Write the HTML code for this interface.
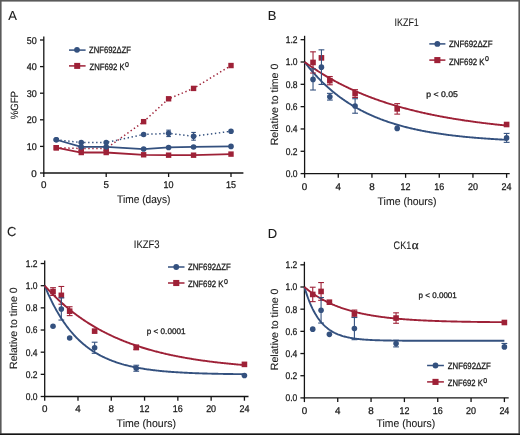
<!DOCTYPE html>
<html><head><meta charset="utf-8"><style>
html,body{margin:0;padding:0;background:#fff;width:520px;height:435px;overflow:hidden}
svg{display:block;font-family:"Liberation Sans",sans-serif} text{text-rendering:geometricPrecision;stroke:#1a1a1a;stroke-width:0.28px;filter:grayscale(1)} text.L{stroke-width:0.1px}
</style></head><body><svg width="520" height="435" viewBox="0 0 520 435" font-family="Liberation Sans, sans-serif"><rect x="0" y="0" width="520" height="435" fill="#fff"/>
<line x1="43.8" y1="36.5" x2="43.8" y2="173.6" stroke="#141414" stroke-width="1.3" />
<line x1="43.2" y1="173" x2="243.4" y2="173" stroke="#141414" stroke-width="1.3" />
<line x1="40" y1="173" x2="43.8" y2="173" stroke="#141414" stroke-width="1.3" />
<text x="36.7" y="176.5" font-size="9.8" text-anchor="end" fill="#1a1a1a" >0</text>
<line x1="40" y1="146.4" x2="43.8" y2="146.4" stroke="#141414" stroke-width="1.3" />
<text x="36.7" y="149.9" font-size="9.8" text-anchor="end" fill="#1a1a1a" textLength="10" lengthAdjust="spacingAndGlyphs" >10</text>
<line x1="40" y1="119.8" x2="43.8" y2="119.8" stroke="#141414" stroke-width="1.3" />
<text x="36.7" y="123.3" font-size="9.8" text-anchor="end" fill="#1a1a1a" textLength="10" lengthAdjust="spacingAndGlyphs" >20</text>
<line x1="40" y1="93.2" x2="43.8" y2="93.2" stroke="#141414" stroke-width="1.3" />
<text x="36.7" y="96.7" font-size="9.8" text-anchor="end" fill="#1a1a1a" textLength="10" lengthAdjust="spacingAndGlyphs" >30</text>
<line x1="40" y1="66.6" x2="43.8" y2="66.6" stroke="#141414" stroke-width="1.3" />
<text x="36.7" y="70.1" font-size="9.8" text-anchor="end" fill="#1a1a1a" textLength="10" lengthAdjust="spacingAndGlyphs" >40</text>
<line x1="40" y1="40" x2="43.8" y2="40" stroke="#141414" stroke-width="1.3" />
<text x="36.7" y="43.5" font-size="9.8" text-anchor="end" fill="#1a1a1a" textLength="10" lengthAdjust="spacingAndGlyphs" >50</text>
<line x1="43.8" y1="173" x2="43.8" y2="177" stroke="#141414" stroke-width="1.3" />
<text x="43.8" y="188.3" font-size="9.8" text-anchor="middle" fill="#1a1a1a" >0</text>
<line x1="106.2" y1="173" x2="106.2" y2="177" stroke="#141414" stroke-width="1.3" />
<text x="106.2" y="188.3" font-size="9.8" text-anchor="middle" fill="#1a1a1a" >5</text>
<line x1="168.6" y1="173" x2="168.6" y2="177" stroke="#141414" stroke-width="1.3" />
<text x="168.6" y="188.3" font-size="9.8" text-anchor="middle" fill="#1a1a1a" textLength="10" lengthAdjust="spacingAndGlyphs" >10</text>
<line x1="231" y1="173" x2="231" y2="177" stroke="#141414" stroke-width="1.3" />
<text x="231" y="188.3" font-size="9.8" text-anchor="middle" fill="#1a1a1a" textLength="10" lengthAdjust="spacingAndGlyphs" >15</text>
<text x="8.3" y="20.4" font-size="13" text-anchor="start" fill="#1a1a1a"  class="L">A</text>
<text transform="translate(17.9,105.2) rotate(-90)" class="L" font-size="10.5" text-anchor="middle" fill="#1a1a1a" textLength="28.3" lengthAdjust="spacingAndGlyphs">%GFP</text>
<text x="117.1" y="203.2" font-size="11" text-anchor="start" fill="#1a1a1a" textLength="53.3" lengthAdjust="spacingAndGlyphs"  class="L">Time (days)</text>
<polyline points="56.28,147.73 81.24,148.53 106.2,148.53 143.64,121.66 168.6,98.79 193.56,88.41 231,65.54" fill="none" stroke="#9e2137" stroke-width="1.5" stroke-dasharray="1.4 2.6" stroke-linejoin="round"/>
<polyline points="56.28,147.73 81.24,152.52 106.2,152.52 143.64,154.78 168.6,155.18 193.56,155.18 231,154.11" fill="none" stroke="#9e2137" stroke-width="1.8" stroke-linejoin="round"/>
<rect x="53.58" y="145.03" width="5.4" height="5.4" fill="#9e2137"/>
<rect x="78.54" y="145.83" width="5.4" height="5.4" fill="#9e2137"/>
<rect x="103.5" y="145.83" width="5.4" height="5.4" fill="#9e2137"/>
<rect x="140.94" y="118.96" width="5.4" height="5.4" fill="#9e2137"/>
<rect x="165.9" y="96.09" width="5.4" height="5.4" fill="#9e2137"/>
<rect x="190.86" y="85.71" width="5.4" height="5.4" fill="#9e2137"/>
<rect x="228.3" y="62.84" width="5.4" height="5.4" fill="#9e2137"/>
<rect x="53.58" y="145.03" width="5.4" height="5.4" fill="#9e2137"/>
<rect x="78.54" y="149.82" width="5.4" height="5.4" fill="#9e2137"/>
<rect x="103.5" y="149.82" width="5.4" height="5.4" fill="#9e2137"/>
<rect x="140.94" y="152.08" width="5.4" height="5.4" fill="#9e2137"/>
<rect x="165.9" y="152.48" width="5.4" height="5.4" fill="#9e2137"/>
<rect x="190.86" y="152.48" width="5.4" height="5.4" fill="#9e2137"/>
<rect x="228.3" y="151.41" width="5.4" height="5.4" fill="#9e2137"/>
<polyline points="56.28,139.75 81.24,142.54 106.2,142.54 143.64,134.43 168.6,133.37 193.56,136.29 231,131.24" fill="none" stroke="#34517f" stroke-width="1.5" stroke-dasharray="1.4 2.6" stroke-linejoin="round"/>
<polyline points="56.28,139.75 81.24,146.93 106.2,146.93 143.64,149.06 168.6,147.46 193.56,146.93 231,146.4" fill="none" stroke="#34517f" stroke-width="1.8" stroke-linejoin="round"/>
<line x1="168.6" y1="130.17" x2="168.6" y2="136.56" stroke="#34517f" stroke-width="1.1" />
<line x1="166.3" y1="130.17" x2="170.9" y2="130.17" stroke="#34517f" stroke-width="1.1" />
<line x1="166.3" y1="136.56" x2="170.9" y2="136.56" stroke="#34517f" stroke-width="1.1" />
<line x1="193.56" y1="132.44" x2="193.56" y2="140.15" stroke="#34517f" stroke-width="1.1" />
<line x1="191.26" y1="132.44" x2="195.86" y2="132.44" stroke="#34517f" stroke-width="1.1" />
<line x1="191.26" y1="140.15" x2="195.86" y2="140.15" stroke="#34517f" stroke-width="1.1" />
<circle cx="56.28" cy="139.75" r="2.8" fill="#34517f"/>
<circle cx="81.24" cy="142.54" r="2.8" fill="#34517f"/>
<circle cx="106.2" cy="142.54" r="2.8" fill="#34517f"/>
<circle cx="143.64" cy="134.43" r="2.8" fill="#34517f"/>
<circle cx="168.6" cy="133.37" r="2.8" fill="#34517f"/>
<circle cx="193.56" cy="136.29" r="2.8" fill="#34517f"/>
<circle cx="231" cy="131.24" r="2.8" fill="#34517f"/>
<circle cx="56.28" cy="139.75" r="2.8" fill="#34517f"/>
<circle cx="81.24" cy="146.93" r="2.8" fill="#34517f"/>
<circle cx="106.2" cy="146.93" r="2.8" fill="#34517f"/>
<circle cx="143.64" cy="149.06" r="2.8" fill="#34517f"/>
<circle cx="168.6" cy="147.46" r="2.8" fill="#34517f"/>
<circle cx="193.56" cy="146.93" r="2.8" fill="#34517f"/>
<circle cx="231" cy="146.4" r="2.8" fill="#34517f"/>
<line x1="69" y1="50.1" x2="85.6" y2="50.1" stroke="#34517f" stroke-width="1.5" />
<circle cx="77" cy="49.8" r="2.9" fill="#34517f"/>
<line x1="69" y1="65.9" x2="85.6" y2="65.9" stroke="#9e2137" stroke-width="1.5" />
<rect x="74.2" y="62.9" width="6.0" height="6.0" fill="#9e2137"/>
<text x="89.1" y="53.2" font-size="9.2" text-anchor="start" fill="#1a1a1a" textLength="41.9" lengthAdjust="spacingAndGlyphs" >ZNF692ΔZF</text>
<text x="89.5" y="70.4" font-size="9.2" text-anchor="start" fill="#1a1a1a" textLength="35.2" lengthAdjust="spacingAndGlyphs" >ZNF692 K</text>
<text x="125" y="66.7" font-size="7" text-anchor="start" fill="#1a1a1a" >0</text>
<line x1="304.6" y1="35.8" x2="304.6" y2="174.2" stroke="#141414" stroke-width="1.3" />
<line x1="304" y1="173.6" x2="509.7" y2="173.6" stroke="#141414" stroke-width="1.3" />
<line x1="300.6" y1="173.6" x2="304.6" y2="173.6" stroke="#141414" stroke-width="1.3" />
<text x="297.5" y="177" font-size="9.8" text-anchor="end" fill="#1a1a1a" textLength="11.8" lengthAdjust="spacingAndGlyphs" >0.0</text>
<line x1="300.6" y1="151.28" x2="304.6" y2="151.28" stroke="#141414" stroke-width="1.3" />
<text x="297.5" y="154.68" font-size="9.8" text-anchor="end" fill="#1a1a1a" textLength="11.8" lengthAdjust="spacingAndGlyphs" >0.2</text>
<line x1="300.6" y1="128.96" x2="304.6" y2="128.96" stroke="#141414" stroke-width="1.3" />
<text x="297.5" y="132.36" font-size="9.8" text-anchor="end" fill="#1a1a1a" textLength="11.8" lengthAdjust="spacingAndGlyphs" >0.4</text>
<line x1="300.6" y1="106.64" x2="304.6" y2="106.64" stroke="#141414" stroke-width="1.3" />
<text x="297.5" y="110.04" font-size="9.8" text-anchor="end" fill="#1a1a1a" textLength="11.8" lengthAdjust="spacingAndGlyphs" >0.6</text>
<line x1="300.6" y1="84.32" x2="304.6" y2="84.32" stroke="#141414" stroke-width="1.3" />
<text x="297.5" y="87.72" font-size="9.8" text-anchor="end" fill="#1a1a1a" textLength="11.8" lengthAdjust="spacingAndGlyphs" >0.8</text>
<line x1="300.6" y1="62" x2="304.6" y2="62" stroke="#141414" stroke-width="1.3" />
<text x="297.5" y="65.4" font-size="9.8" text-anchor="end" fill="#1a1a1a" textLength="11.8" lengthAdjust="spacingAndGlyphs" >1.0</text>
<line x1="300.6" y1="39.68" x2="304.6" y2="39.68" stroke="#141414" stroke-width="1.3" />
<text x="297.5" y="43.08" font-size="9.8" text-anchor="end" fill="#1a1a1a" textLength="11.8" lengthAdjust="spacingAndGlyphs" >1.2</text>
<line x1="304.6" y1="173.6" x2="304.6" y2="177.8" stroke="#141414" stroke-width="1.3" />
<text x="304.6" y="189.5" font-size="9.8" text-anchor="middle" fill="#1a1a1a" >0</text>
<line x1="338.27" y1="173.6" x2="338.27" y2="177.8" stroke="#141414" stroke-width="1.3" />
<text x="338.27" y="189.5" font-size="9.8" text-anchor="middle" fill="#1a1a1a" >4</text>
<line x1="371.94" y1="173.6" x2="371.94" y2="177.8" stroke="#141414" stroke-width="1.3" />
<text x="371.94" y="189.5" font-size="9.8" text-anchor="middle" fill="#1a1a1a" >8</text>
<line x1="405.6" y1="173.6" x2="405.6" y2="177.8" stroke="#141414" stroke-width="1.3" />
<text x="405.6" y="189.5" font-size="9.8" text-anchor="middle" fill="#1a1a1a" textLength="10" lengthAdjust="spacingAndGlyphs" >12</text>
<line x1="439.27" y1="173.6" x2="439.27" y2="177.8" stroke="#141414" stroke-width="1.3" />
<text x="439.27" y="189.5" font-size="9.8" text-anchor="middle" fill="#1a1a1a" textLength="10" lengthAdjust="spacingAndGlyphs" >16</text>
<line x1="472.94" y1="173.6" x2="472.94" y2="177.8" stroke="#141414" stroke-width="1.3" />
<text x="472.94" y="189.5" font-size="9.8" text-anchor="middle" fill="#1a1a1a" textLength="10" lengthAdjust="spacingAndGlyphs" >20</text>
<line x1="506.61" y1="173.6" x2="506.61" y2="177.8" stroke="#141414" stroke-width="1.3" />
<text x="506.61" y="189.5" font-size="9.8" text-anchor="middle" fill="#1a1a1a" textLength="10" lengthAdjust="spacingAndGlyphs" >24</text>
<text x="267.8" y="20.3" font-size="13" text-anchor="start" fill="#1a1a1a"  class="L">B</text>
<text x="394.6" y="25.9" font-size="11" text-anchor="start" fill="#1a1a1a" textLength="24.2" lengthAdjust="spacingAndGlyphs"  class="L">IKZF1</text>
<line x1="429.3" y1="43.9" x2="445.4" y2="43.9" stroke="#34517f" stroke-width="1.5" />
<circle cx="437.35" cy="43.9" r="2.9" fill="#34517f"/>
<line x1="429.3" y1="60.1" x2="445.4" y2="60.1" stroke="#9e2137" stroke-width="1.5" />
<rect x="434.3" y="57.05" width="6.1" height="6.1" fill="#9e2137"/>
<text x="448.9" y="47.1" font-size="9.2" text-anchor="start" fill="#1a1a1a" textLength="43.6" lengthAdjust="spacingAndGlyphs" >ZNF692ΔZF</text>
<text x="448.9" y="64.5" font-size="9.2" text-anchor="start" fill="#1a1a1a" textLength="35.7" lengthAdjust="spacingAndGlyphs" >ZNF692 K</text>
<text x="485.1" y="60.7" font-size="7" text-anchor="start" fill="#1a1a1a" >0</text>
<text x="426.2" y="96.8" font-size="8.2" text-anchor="start" fill="#1a1a1a" textLength="31.7" lengthAdjust="spacingAndGlyphs" >p &lt; 0.05</text>
<text x="377.6" y="204.6" font-size="11" text-anchor="start" fill="#1a1a1a" textLength="59" lengthAdjust="spacingAndGlyphs"  class="L">Time (hours)</text>
<text transform="translate(278.3,104.5) rotate(-90)" class="L" font-size="10.5" text-anchor="middle" fill="#1a1a1a" textLength="81.5" lengthAdjust="spacingAndGlyphs">Relative to time 0</text>
<polyline points="304.6,62 305.44,63.09 306.28,64.17 307.13,65.23 307.97,66.27 308.81,67.31 309.65,68.33 310.49,69.33 311.33,70.32 312.18,71.3 313.02,72.27 313.86,73.22 314.7,74.16 315.54,75.09 316.38,76 317.23,76.9 318.07,77.79 318.91,78.67 319.75,79.53 320.59,80.39 321.43,81.23 322.28,82.06 323.12,82.88 323.96,83.69 324.8,84.49 325.64,85.28 326.48,86.05 327.33,86.82 328.17,87.58 329.01,88.32 329.85,89.06 330.69,89.78 331.53,90.5 332.38,91.21 333.22,91.9 334.06,92.59 334.9,93.27 335.74,93.94 336.58,94.6 337.43,95.25 338.27,95.89 339.11,96.53 339.95,97.15 340.79,97.77 341.63,98.38 342.48,98.98 343.32,99.57 344.16,100.15 345,100.73 345.84,101.3 346.69,101.86 347.53,102.41 348.37,102.96 349.21,103.5 350.05,104.03 350.89,104.55 351.74,105.07 352.58,105.58 353.42,106.08 354.26,106.58 355.1,107.07 355.94,107.55 356.79,108.03 357.63,108.5 358.47,108.96 359.31,109.42 360.15,109.87 360.99,110.32 361.84,110.75 362.68,111.19 363.52,111.62 364.36,112.04 365.2,112.45 366.04,112.86 366.89,113.27 367.73,113.67 368.57,114.06 369.41,114.45 370.25,114.84 371.09,115.21 371.94,115.59 372.78,115.96 373.62,116.32 374.46,116.68 375.3,117.03 376.14,117.38 376.99,117.72 377.83,118.06 378.67,118.4 379.51,118.73 380.35,119.05 381.19,119.38 382.04,119.69 382.88,120.01 383.72,120.31 384.56,120.62 385.4,120.92 386.24,121.22 387.09,121.51 387.93,121.8 388.77,122.08 389.61,122.36 390.45,122.64 391.3,122.91 392.14,123.18 392.98,123.45 393.82,123.71 394.66,123.97 395.5,124.22 396.35,124.48 397.19,124.72 398.03,124.97 398.87,125.21 399.71,125.45 400.55,125.69 401.4,125.92 402.24,126.15 403.08,126.37 403.92,126.6 404.76,126.82 405.6,127.03 406.45,127.25 407.29,127.46 408.13,127.67 408.97,127.87 409.81,128.07 410.65,128.27 411.5,128.47 412.34,128.67 413.18,128.86 414.02,129.05 414.86,129.23 415.7,129.42 416.55,129.6 417.39,129.78 418.23,129.96 419.07,130.13 419.91,130.3 420.75,130.47 421.6,130.64 422.44,130.81 423.28,130.97 424.12,131.13 424.96,131.29 425.8,131.45 426.65,131.6 427.49,131.75 428.33,131.9 429.17,132.05 430.01,132.2 430.86,132.34 431.7,132.48 432.54,132.62 433.38,132.76 434.22,132.9 435.06,133.04 435.91,133.17 436.75,133.3 437.59,133.43 438.43,133.56 439.27,133.68 440.11,133.81 440.96,133.93 441.8,134.05 442.64,134.17 443.48,134.29 444.32,134.4 445.16,134.52 446.01,134.63 446.85,134.74 447.69,134.85 448.53,134.96 449.37,135.07 450.21,135.18 451.06,135.28 451.9,135.38 452.74,135.48 453.58,135.58 454.42,135.68 455.26,135.78 456.11,135.88 456.95,135.97 457.79,136.06 458.63,136.16 459.47,136.25 460.31,136.34 461.16,136.43 462,136.51 462.84,136.6 463.68,136.68 464.52,136.77 465.36,136.85 466.21,136.93 467.05,137.01 467.89,137.09 468.73,137.17 469.57,137.25 470.41,137.33 471.26,137.4 472.1,137.47 472.94,137.55 473.78,137.62 474.62,137.69 475.47,137.76 476.31,137.83 477.15,137.9 477.99,137.97 478.83,138.03 479.67,138.1 480.52,138.16 481.36,138.23 482.2,138.29 483.04,138.35 483.88,138.42 484.72,138.48 485.57,138.54 486.41,138.59 487.25,138.65 488.09,138.71 488.93,138.77 489.77,138.82 490.62,138.88 491.46,138.93 492.3,138.99 493.14,139.04 493.98,139.09 494.82,139.14 495.67,139.19 496.51,139.24 497.35,139.29 498.19,139.34 499.03,139.39 499.87,139.44 500.72,139.48 501.56,139.53 502.4,139.58 503.24,139.62 504.08,139.66 504.92,139.71 505.77,139.75 506.61,139.79" fill="none" stroke="#34517f" stroke-width="1.9" stroke-linejoin="round"/>
<polyline points="304.6,62 305.44,62.61 306.28,63.22 307.13,63.82 307.97,64.41 308.81,65 309.65,65.59 310.49,66.17 311.33,66.75 312.18,67.32 313.02,67.89 313.86,68.45 314.7,69.01 315.54,69.56 316.38,70.11 317.23,70.65 318.07,71.19 318.91,71.72 319.75,72.25 320.59,72.78 321.43,73.3 322.28,73.82 323.12,74.33 323.96,74.84 324.8,75.34 325.64,75.84 326.48,76.34 327.33,76.83 328.17,77.32 329.01,77.8 329.85,78.28 330.69,78.76 331.53,79.23 332.38,79.7 333.22,80.16 334.06,80.62 334.9,81.08 335.74,81.53 336.58,81.98 337.43,82.42 338.27,82.86 339.11,83.3 339.95,83.73 340.79,84.17 341.63,84.59 342.48,85.02 343.32,85.43 344.16,85.85 345,86.26 345.84,86.67 346.69,87.08 347.53,87.48 348.37,87.88 349.21,88.28 350.05,88.67 350.89,89.06 351.74,89.44 352.58,89.83 353.42,90.21 354.26,90.58 355.1,90.96 355.94,91.33 356.79,91.69 357.63,92.06 358.47,92.42 359.31,92.78 360.15,93.13 360.99,93.48 361.84,93.83 362.68,94.18 363.52,94.52 364.36,94.86 365.2,95.2 366.04,95.54 366.89,95.87 367.73,96.2 368.57,96.52 369.41,96.85 370.25,97.17 371.09,97.49 371.94,97.8 372.78,98.12 373.62,98.43 374.46,98.74 375.3,99.04 376.14,99.34 376.99,99.64 377.83,99.94 378.67,100.24 379.51,100.53 380.35,100.82 381.19,101.11 382.04,101.4 382.88,101.68 383.72,101.96 384.56,102.24 385.4,102.51 386.24,102.79 387.09,103.06 387.93,103.33 388.77,103.6 389.61,103.86 390.45,104.13 391.3,104.39 392.14,104.64 392.98,104.9 393.82,105.16 394.66,105.41 395.5,105.66 396.35,105.91 397.19,106.15 398.03,106.4 398.87,106.64 399.71,106.88 400.55,107.11 401.4,107.35 402.24,107.58 403.08,107.82 403.92,108.05 404.76,108.27 405.6,108.5 406.45,108.72 407.29,108.95 408.13,109.17 408.97,109.39 409.81,109.6 410.65,109.82 411.5,110.03 412.34,110.24 413.18,110.45 414.02,110.66 414.86,110.87 415.7,111.07 416.55,111.28 417.39,111.48 418.23,111.68 419.07,111.87 419.91,112.07 420.75,112.27 421.6,112.46 422.44,112.65 423.28,112.84 424.12,113.03 424.96,113.21 425.8,113.4 426.65,113.58 427.49,113.77 428.33,113.95 429.17,114.12 430.01,114.3 430.86,114.48 431.7,114.65 432.54,114.83 433.38,115 434.22,115.17 435.06,115.34 435.91,115.5 436.75,115.67 437.59,115.84 438.43,116 439.27,116.16 440.11,116.32 440.96,116.48 441.8,116.64 442.64,116.8 443.48,116.95 444.32,117.1 445.16,117.26 446.01,117.41 446.85,117.56 447.69,117.71 448.53,117.86 449.37,118 450.21,118.15 451.06,118.29 451.9,118.43 452.74,118.58 453.58,118.72 454.42,118.86 455.26,118.99 456.11,119.13 456.95,119.27 457.79,119.4 458.63,119.54 459.47,119.67 460.31,119.8 461.16,119.93 462,120.06 462.84,120.19 463.68,120.31 464.52,120.44 465.36,120.57 466.21,120.69 467.05,120.81 467.89,120.93 468.73,121.06 469.57,121.18 470.41,121.29 471.26,121.41 472.1,121.53 472.94,121.65 473.78,121.76 474.62,121.87 475.47,121.99 476.31,122.1 477.15,122.21 477.99,122.32 478.83,122.43 479.67,122.54 480.52,122.65 481.36,122.75 482.2,122.86 483.04,122.96 483.88,123.07 484.72,123.17 485.57,123.27 486.41,123.38 487.25,123.48 488.09,123.58 488.93,123.67 489.77,123.77 490.62,123.87 491.46,123.97 492.3,124.06 493.14,124.16 493.98,124.25 494.82,124.34 495.67,124.44 496.51,124.53 497.35,124.62 498.19,124.71 499.03,124.8 499.87,124.89 500.72,124.98 501.56,125.06 502.4,125.15 503.24,125.24 504.08,125.32 504.92,125.41 505.77,125.49 506.61,125.57" fill="none" stroke="#9e2137" stroke-width="1.9" stroke-linejoin="round"/>
<line x1="313.02" y1="51.84" x2="313.02" y2="73.05" stroke="#9e2137" stroke-width="1.1" />
<line x1="310.12" y1="51.84" x2="315.92" y2="51.84" stroke="#9e2137" stroke-width="1.1" />
<line x1="310.12" y1="73.05" x2="315.92" y2="73.05" stroke="#9e2137" stroke-width="1.1" />
<rect x="310.22" y="59.65" width="5.6" height="5.6" fill="#9e2137"/>
<rect x="318.63" y="55.07" width="5.6" height="5.6" fill="#9e2137"/>
<line x1="329.85" y1="76.51" x2="329.85" y2="84.77" stroke="#9e2137" stroke-width="1.1" />
<line x1="326.95" y1="76.51" x2="332.75" y2="76.51" stroke="#9e2137" stroke-width="1.1" />
<line x1="326.95" y1="84.77" x2="332.75" y2="84.77" stroke="#9e2137" stroke-width="1.1" />
<rect x="327.05" y="77.84" width="5.6" height="5.6" fill="#9e2137"/>
<line x1="355.1" y1="89.68" x2="355.1" y2="97.49" stroke="#9e2137" stroke-width="1.1" />
<line x1="352.2" y1="89.68" x2="358" y2="89.68" stroke="#9e2137" stroke-width="1.1" />
<line x1="352.2" y1="97.49" x2="358" y2="97.49" stroke="#9e2137" stroke-width="1.1" />
<rect x="352.3" y="90.78" width="5.6" height="5.6" fill="#9e2137"/>
<line x1="397.19" y1="103.63" x2="397.19" y2="114.12" stroke="#9e2137" stroke-width="1.1" />
<line x1="394.29" y1="103.63" x2="400.09" y2="103.63" stroke="#9e2137" stroke-width="1.1" />
<line x1="394.29" y1="114.12" x2="400.09" y2="114.12" stroke="#9e2137" stroke-width="1.1" />
<rect x="394.39" y="106.07" width="5.6" height="5.6" fill="#9e2137"/>
<rect x="503.81" y="121.7" width="5.6" height="5.6" fill="#9e2137"/>
<line x1="313.02" y1="68.81" x2="313.02" y2="90.01" stroke="#34517f" stroke-width="1.1" />
<line x1="310.12" y1="68.81" x2="315.92" y2="68.81" stroke="#34517f" stroke-width="1.1" />
<line x1="310.12" y1="90.01" x2="315.92" y2="90.01" stroke="#34517f" stroke-width="1.1" />
<circle cx="313.02" cy="79.41" r="2.8" fill="#34517f"/>
<line x1="321.43" y1="49.84" x2="321.43" y2="84.43" stroke="#34517f" stroke-width="1.1" />
<line x1="318.53" y1="49.84" x2="324.33" y2="49.84" stroke="#34517f" stroke-width="1.1" />
<line x1="318.53" y1="84.43" x2="324.33" y2="84.43" stroke="#34517f" stroke-width="1.1" />
<circle cx="321.43" cy="67.13" r="2.8" fill="#34517f"/>
<line x1="329.85" y1="93.36" x2="329.85" y2="100.06" stroke="#34517f" stroke-width="1.1" />
<line x1="326.95" y1="93.36" x2="332.75" y2="93.36" stroke="#34517f" stroke-width="1.1" />
<line x1="326.95" y1="100.06" x2="332.75" y2="100.06" stroke="#34517f" stroke-width="1.1" />
<circle cx="329.85" cy="96.71" r="2.8" fill="#34517f"/>
<line x1="355.1" y1="98.72" x2="355.1" y2="113.22" stroke="#34517f" stroke-width="1.1" />
<line x1="352.2" y1="98.72" x2="358" y2="98.72" stroke="#34517f" stroke-width="1.1" />
<line x1="352.2" y1="113.22" x2="358" y2="113.22" stroke="#34517f" stroke-width="1.1" />
<circle cx="355.1" cy="105.97" r="2.8" fill="#34517f"/>
<circle cx="397.19" cy="128.4" r="2.8" fill="#34517f"/>
<line x1="506.61" y1="133.42" x2="506.61" y2="142.35" stroke="#34517f" stroke-width="1.1" />
<line x1="503.71" y1="133.42" x2="509.51" y2="133.42" stroke="#34517f" stroke-width="1.1" />
<line x1="503.71" y1="142.35" x2="509.51" y2="142.35" stroke="#34517f" stroke-width="1.1" />
<circle cx="506.61" cy="137.89" r="2.8" fill="#34517f"/>
<line x1="44.7" y1="260.5" x2="44.7" y2="397.1" stroke="#141414" stroke-width="1.3" />
<line x1="44.1" y1="396.5" x2="248.5" y2="396.5" stroke="#141414" stroke-width="1.3" />
<line x1="40.7" y1="396.5" x2="44.7" y2="396.5" stroke="#141414" stroke-width="1.3" />
<text x="37.6" y="399.9" font-size="9.8" text-anchor="end" fill="#1a1a1a" textLength="11.8" lengthAdjust="spacingAndGlyphs" >0.0</text>
<line x1="40.7" y1="374.34" x2="44.7" y2="374.34" stroke="#141414" stroke-width="1.3" />
<text x="37.6" y="377.74" font-size="9.8" text-anchor="end" fill="#1a1a1a" textLength="11.8" lengthAdjust="spacingAndGlyphs" >0.2</text>
<line x1="40.7" y1="352.18" x2="44.7" y2="352.18" stroke="#141414" stroke-width="1.3" />
<text x="37.6" y="355.58" font-size="9.8" text-anchor="end" fill="#1a1a1a" textLength="11.8" lengthAdjust="spacingAndGlyphs" >0.4</text>
<line x1="40.7" y1="330.02" x2="44.7" y2="330.02" stroke="#141414" stroke-width="1.3" />
<text x="37.6" y="333.42" font-size="9.8" text-anchor="end" fill="#1a1a1a" textLength="11.8" lengthAdjust="spacingAndGlyphs" >0.6</text>
<line x1="40.7" y1="307.86" x2="44.7" y2="307.86" stroke="#141414" stroke-width="1.3" />
<text x="37.6" y="311.26" font-size="9.8" text-anchor="end" fill="#1a1a1a" textLength="11.8" lengthAdjust="spacingAndGlyphs" >0.8</text>
<line x1="40.7" y1="285.7" x2="44.7" y2="285.7" stroke="#141414" stroke-width="1.3" />
<text x="37.6" y="289.1" font-size="9.8" text-anchor="end" fill="#1a1a1a" textLength="11.8" lengthAdjust="spacingAndGlyphs" >1.0</text>
<line x1="40.7" y1="263.54" x2="44.7" y2="263.54" stroke="#141414" stroke-width="1.3" />
<text x="37.6" y="266.94" font-size="9.8" text-anchor="end" fill="#1a1a1a" textLength="11.8" lengthAdjust="spacingAndGlyphs" >1.2</text>
<line x1="44.7" y1="396.5" x2="44.7" y2="400.7" stroke="#141414" stroke-width="1.3" />
<text x="44.7" y="412.4" font-size="9.8" text-anchor="middle" fill="#1a1a1a" >0</text>
<line x1="77.99" y1="396.5" x2="77.99" y2="400.7" stroke="#141414" stroke-width="1.3" />
<text x="77.99" y="412.4" font-size="9.8" text-anchor="middle" fill="#1a1a1a" >4</text>
<line x1="111.28" y1="396.5" x2="111.28" y2="400.7" stroke="#141414" stroke-width="1.3" />
<text x="111.28" y="412.4" font-size="9.8" text-anchor="middle" fill="#1a1a1a" >8</text>
<line x1="144.56" y1="396.5" x2="144.56" y2="400.7" stroke="#141414" stroke-width="1.3" />
<text x="144.56" y="412.4" font-size="9.8" text-anchor="middle" fill="#1a1a1a" textLength="10" lengthAdjust="spacingAndGlyphs" >12</text>
<line x1="177.85" y1="396.5" x2="177.85" y2="400.7" stroke="#141414" stroke-width="1.3" />
<text x="177.85" y="412.4" font-size="9.8" text-anchor="middle" fill="#1a1a1a" textLength="10" lengthAdjust="spacingAndGlyphs" >16</text>
<line x1="211.14" y1="396.5" x2="211.14" y2="400.7" stroke="#141414" stroke-width="1.3" />
<text x="211.14" y="412.4" font-size="9.8" text-anchor="middle" fill="#1a1a1a" textLength="10" lengthAdjust="spacingAndGlyphs" >20</text>
<line x1="244.43" y1="396.5" x2="244.43" y2="400.7" stroke="#141414" stroke-width="1.3" />
<text x="244.43" y="412.4" font-size="9.8" text-anchor="middle" fill="#1a1a1a" textLength="10" lengthAdjust="spacingAndGlyphs" >24</text>
<text x="7.1" y="236.2" font-size="13" text-anchor="start" fill="#1a1a1a"  class="L">C</text>
<text x="133.75" y="247.6" font-size="11" text-anchor="start" fill="#1a1a1a" textLength="25.75" lengthAdjust="spacingAndGlyphs"  class="L">IKZF3</text>
<line x1="168" y1="267" x2="184.5" y2="267" stroke="#34517f" stroke-width="1.5" />
<circle cx="176.25" cy="267" r="2.9" fill="#34517f"/>
<line x1="168" y1="283" x2="184.5" y2="283" stroke="#9e2137" stroke-width="1.5" />
<rect x="173.2" y="279.95" width="6.1" height="6.1" fill="#9e2137"/>
<text x="188" y="270.2" font-size="9.2" text-anchor="start" fill="#1a1a1a" textLength="42.75" lengthAdjust="spacingAndGlyphs" >ZNF692ΔZF</text>
<text x="188" y="287.4" font-size="9.2" text-anchor="start" fill="#1a1a1a" textLength="35.45" lengthAdjust="spacingAndGlyphs" >ZNF692 K</text>
<text x="223.95" y="283.6" font-size="7" text-anchor="start" fill="#1a1a1a" >0</text>
<text x="146.8" y="333.5" font-size="8.2" text-anchor="start" fill="#1a1a1a" textLength="38.7" lengthAdjust="spacingAndGlyphs" >p &lt; 0.0001</text>
<text x="116.6" y="427.3" font-size="11" text-anchor="start" fill="#1a1a1a" textLength="59.4" lengthAdjust="spacingAndGlyphs"  class="L">Time (hours)</text>
<text transform="translate(16.8,328.2) rotate(-90)" class="L" font-size="10.5" text-anchor="middle" fill="#1a1a1a" textLength="81.5" lengthAdjust="spacingAndGlyphs">Relative to time 0</text>
<polyline points="44.7,285.7 45.53,287.72 46.36,289.7 47.2,291.63 48.03,293.51 48.86,295.36 49.69,297.16 50.53,298.92 51.36,300.64 52.19,302.32 53.02,303.97 53.85,305.57 54.69,307.14 55.52,308.67 56.35,310.17 57.18,311.64 58.02,313.07 58.85,314.47 59.68,315.83 60.51,317.17 61.34,318.48 62.18,319.75 63.01,321 63.84,322.22 64.67,323.41 65.5,324.57 66.34,325.71 67.17,326.82 68,327.91 68.83,328.97 69.67,330 70.5,331.02 71.33,332.01 72.16,332.98 72.99,333.92 73.83,334.85 74.66,335.75 75.49,336.63 76.32,337.5 77.16,338.34 77.99,339.16 78.82,339.97 79.65,340.75 80.48,341.52 81.32,342.28 82.15,343.01 82.98,343.73 83.81,344.43 84.65,345.11 85.48,345.78 86.31,346.44 87.14,347.08 87.97,347.7 88.81,348.31 89.64,348.91 90.47,349.5 91.3,350.07 92.14,350.62 92.97,351.17 93.8,351.7 94.63,352.22 95.46,352.73 96.3,353.22 97.13,353.71 97.96,354.18 98.79,354.65 99.63,355.1 100.46,355.54 101.29,355.98 102.12,356.4 102.95,356.81 103.79,357.22 104.62,357.61 105.45,358 106.28,358.37 107.11,358.74 107.95,359.1 108.78,359.45 109.61,359.8 110.44,360.13 111.28,360.46 112.11,360.78 112.94,361.09 113.77,361.4 114.6,361.7 115.44,361.99 116.27,362.28 117.1,362.56 117.93,362.83 118.77,363.1 119.6,363.36 120.43,363.61 121.26,363.86 122.09,364.11 122.93,364.34 123.76,364.58 124.59,364.8 125.42,365.03 126.26,365.24 127.09,365.45 127.92,365.66 128.75,365.86 129.58,366.06 130.42,366.26 131.25,366.44 132.08,366.63 132.91,366.81 133.75,366.99 134.58,367.16 135.41,367.33 136.24,367.49 137.07,367.65 137.91,367.81 138.74,367.96 139.57,368.11 140.4,368.26 141.24,368.4 142.07,368.54 142.9,368.68 143.73,368.81 144.56,368.94 145.4,369.07 146.23,369.2 147.06,369.32 147.89,369.44 148.72,369.55 149.56,369.67 150.39,369.78 151.22,369.89 152.05,369.99 152.89,370.1 153.72,370.2 154.55,370.3 155.38,370.4 156.21,370.49 157.05,370.58 157.88,370.67 158.71,370.76 159.54,370.85 160.38,370.93 161.21,371.02 162.04,371.1 162.87,371.18 163.7,371.25 164.54,371.33 165.37,371.4 166.2,371.47 167.03,371.54 167.87,371.61 168.7,371.68 169.53,371.74 170.36,371.81 171.19,371.87 172.03,371.93 172.86,371.99 173.69,372.05 174.52,372.11 175.36,372.16 176.19,372.22 177.02,372.27 177.85,372.32 178.68,372.37 179.52,372.42 180.35,372.47 181.18,372.52 182.01,372.57 182.85,372.61 183.68,372.66 184.51,372.7 185.34,372.74 186.17,372.78 187.01,372.82 187.84,372.86 188.67,372.9 189.5,372.94 190.33,372.98 191.17,373.01 192,373.05 192.83,373.08 193.66,373.12 194.5,373.15 195.33,373.18 196.16,373.21 196.99,373.24 197.82,373.27 198.66,373.3 199.49,373.33 200.32,373.36 201.15,373.39 201.99,373.41 202.82,373.44 203.65,373.47 204.48,373.49 205.31,373.51 206.15,373.54 206.98,373.56 207.81,373.58 208.64,373.61 209.48,373.63 210.31,373.65 211.14,373.67 211.97,373.69 212.8,373.71 213.64,373.73 214.47,373.75 215.3,373.77 216.13,373.79 216.97,373.8 217.8,373.82 218.63,373.84 219.46,373.85 220.29,373.87 221.13,373.89 221.96,373.9 222.79,373.92 223.62,373.93 224.46,373.94 225.29,373.96 226.12,373.97 226.95,373.99 227.78,374 228.62,374.01 229.45,374.02 230.28,374.04 231.11,374.05 231.94,374.06 232.78,374.07 233.61,374.08 234.44,374.09 235.27,374.1 236.11,374.11 236.94,374.12 237.77,374.13 238.6,374.14 239.43,374.15 240.27,374.16 241.1,374.17 241.93,374.18 242.76,374.19 243.6,374.2 244.43,374.21" fill="none" stroke="#34517f" stroke-width="1.9" stroke-linejoin="round"/>
<polyline points="44.7,285.7 45.53,286.63 46.36,287.55 47.2,288.46 48.03,289.36 48.86,290.26 49.69,291.14 50.53,292.01 51.36,292.87 52.19,293.72 53.02,294.57 53.85,295.4 54.69,296.23 55.52,297.05 56.35,297.85 57.18,298.65 58.02,299.44 58.85,300.22 59.68,301 60.51,301.76 61.34,302.52 62.18,303.27 63.01,304.01 63.84,304.74 64.67,305.46 65.5,306.18 66.34,306.89 67.17,307.59 68,308.28 68.83,308.97 69.67,309.64 70.5,310.31 71.33,310.98 72.16,311.63 72.99,312.28 73.83,312.93 74.66,313.56 75.49,314.19 76.32,314.81 77.16,315.42 77.99,316.03 78.82,316.63 79.65,317.23 80.48,317.82 81.32,318.4 82.15,318.97 82.98,319.54 83.81,320.1 84.65,320.66 85.48,321.21 86.31,321.76 87.14,322.3 87.97,322.83 88.81,323.36 89.64,323.88 90.47,324.39 91.3,324.9 92.14,325.41 92.97,325.91 93.8,326.4 94.63,326.89 95.46,327.37 96.3,327.85 97.13,328.32 97.96,328.79 98.79,329.25 99.63,329.71 100.46,330.16 101.29,330.61 102.12,331.05 102.95,331.49 103.79,331.92 104.62,332.35 105.45,332.77 106.28,333.19 107.11,333.61 107.95,334.02 108.78,334.42 109.61,334.82 110.44,335.22 111.28,335.61 112.11,336 112.94,336.39 113.77,336.76 114.6,337.14 115.44,337.51 116.27,337.88 117.1,338.24 117.93,338.6 118.77,338.96 119.6,339.31 120.43,339.66 121.26,340 122.09,340.34 122.93,340.68 123.76,341.01 124.59,341.34 125.42,341.67 126.26,341.99 127.09,342.31 127.92,342.62 128.75,342.93 129.58,343.24 130.42,343.55 131.25,343.85 132.08,344.15 132.91,344.44 133.75,344.74 134.58,345.02 135.41,345.31 136.24,345.59 137.07,345.87 137.91,346.15 138.74,346.42 139.57,346.69 140.4,346.96 141.24,347.22 142.07,347.49 142.9,347.75 143.73,348 144.56,348.25 145.4,348.51 146.23,348.75 147.06,349 147.89,349.24 148.72,349.48 149.56,349.72 150.39,349.95 151.22,350.18 152.05,350.41 152.89,350.64 153.72,350.87 154.55,351.09 155.38,351.31 156.21,351.52 157.05,351.74 157.88,351.95 158.71,352.16 159.54,352.37 160.38,352.58 161.21,352.78 162.04,352.98 162.87,353.18 163.7,353.38 164.54,353.57 165.37,353.76 166.2,353.96 167.03,354.14 167.87,354.33 168.7,354.51 169.53,354.7 170.36,354.88 171.19,355.06 172.03,355.23 172.86,355.41 173.69,355.58 174.52,355.75 175.36,355.92 176.19,356.09 177.02,356.25 177.85,356.42 178.68,356.58 179.52,356.74 180.35,356.9 181.18,357.05 182.01,357.21 182.85,357.36 183.68,357.51 184.51,357.66 185.34,357.81 186.17,357.96 187.01,358.1 187.84,358.24 188.67,358.39 189.5,358.53 190.33,358.67 191.17,358.8 192,358.94 192.83,359.07 193.66,359.21 194.5,359.34 195.33,359.47 196.16,359.6 196.99,359.72 197.82,359.85 198.66,359.97 199.49,360.1 200.32,360.22 201.15,360.34 201.99,360.46 202.82,360.58 203.65,360.69 204.48,360.81 205.31,360.92 206.15,361.03 206.98,361.15 207.81,361.26 208.64,361.36 209.48,361.47 210.31,361.58 211.14,361.68 211.97,361.79 212.8,361.89 213.64,361.99 214.47,362.1 215.3,362.2 216.13,362.29 216.97,362.39 217.8,362.49 218.63,362.58 219.46,362.68 220.29,362.77 221.13,362.87 221.96,362.96 222.79,363.05 223.62,363.14 224.46,363.23 225.29,363.31 226.12,363.4 226.95,363.49 227.78,363.57 228.62,363.65 229.45,363.74 230.28,363.82 231.11,363.9 231.94,363.98 232.78,364.06 233.61,364.14 234.44,364.22 235.27,364.29 236.11,364.37 236.94,364.45 237.77,364.52 238.6,364.59 239.43,364.67 240.27,364.74 241.1,364.81 241.93,364.88 242.76,364.95 243.6,365.02 244.43,365.09" fill="none" stroke="#9e2137" stroke-width="1.9" stroke-linejoin="round"/>
<line x1="53.02" y1="287.69" x2="53.02" y2="295.45" stroke="#9e2137" stroke-width="1.1" />
<line x1="50.12" y1="287.69" x2="55.92" y2="287.69" stroke="#9e2137" stroke-width="1.1" />
<line x1="50.12" y1="295.45" x2="55.92" y2="295.45" stroke="#9e2137" stroke-width="1.1" />
<rect x="50.22" y="288.77" width="5.6" height="5.6" fill="#9e2137"/>
<line x1="61.34" y1="286.48" x2="61.34" y2="304.2" stroke="#9e2137" stroke-width="1.1" />
<line x1="58.44" y1="286.48" x2="64.24" y2="286.48" stroke="#9e2137" stroke-width="1.1" />
<line x1="58.44" y1="304.2" x2="64.24" y2="304.2" stroke="#9e2137" stroke-width="1.1" />
<rect x="58.54" y="292.54" width="5.6" height="5.6" fill="#9e2137"/>
<line x1="69.67" y1="306.75" x2="69.67" y2="315.62" stroke="#9e2137" stroke-width="1.1" />
<line x1="66.77" y1="306.75" x2="72.57" y2="306.75" stroke="#9e2137" stroke-width="1.1" />
<line x1="66.77" y1="315.62" x2="72.57" y2="315.62" stroke="#9e2137" stroke-width="1.1" />
<rect x="66.87" y="308.38" width="5.6" height="5.6" fill="#9e2137"/>
<rect x="91.83" y="328.33" width="5.6" height="5.6" fill="#9e2137"/>
<line x1="136.24" y1="345.2" x2="136.24" y2="349.63" stroke="#9e2137" stroke-width="1.1" />
<line x1="133.34" y1="345.2" x2="139.14" y2="345.2" stroke="#9e2137" stroke-width="1.1" />
<line x1="133.34" y1="349.63" x2="139.14" y2="349.63" stroke="#9e2137" stroke-width="1.1" />
<rect x="133.44" y="344.62" width="5.6" height="5.6" fill="#9e2137"/>
<rect x="241.63" y="361.57" width="5.6" height="5.6" fill="#9e2137"/>
<circle cx="53.02" cy="326.25" r="2.8" fill="#34517f"/>
<line x1="61.34" y1="297.89" x2="61.34" y2="320.05" stroke="#34517f" stroke-width="1.1" />
<line x1="58.44" y1="297.89" x2="64.24" y2="297.89" stroke="#34517f" stroke-width="1.1" />
<line x1="58.44" y1="320.05" x2="64.24" y2="320.05" stroke="#34517f" stroke-width="1.1" />
<circle cx="61.34" cy="308.97" r="2.8" fill="#34517f"/>
<circle cx="69.67" cy="338" r="2.8" fill="#34517f"/>
<line x1="94.63" y1="342.21" x2="94.63" y2="353.29" stroke="#34517f" stroke-width="1.1" />
<line x1="91.73" y1="342.21" x2="97.53" y2="342.21" stroke="#34517f" stroke-width="1.1" />
<line x1="91.73" y1="353.29" x2="97.53" y2="353.29" stroke="#34517f" stroke-width="1.1" />
<circle cx="94.63" cy="347.75" r="2.8" fill="#34517f"/>
<line x1="136.24" y1="365.25" x2="136.24" y2="371.24" stroke="#34517f" stroke-width="1.1" />
<line x1="133.34" y1="365.25" x2="139.14" y2="365.25" stroke="#34517f" stroke-width="1.1" />
<line x1="133.34" y1="371.24" x2="139.14" y2="371.24" stroke="#34517f" stroke-width="1.1" />
<circle cx="136.24" cy="368.25" r="2.8" fill="#34517f"/>
<circle cx="244.43" cy="375.45" r="2.8" fill="#34517f"/>
<line x1="304.4" y1="261.8" x2="304.4" y2="398.5" stroke="#141414" stroke-width="1.3" />
<line x1="303.8" y1="397.9" x2="508.7" y2="397.9" stroke="#141414" stroke-width="1.3" />
<line x1="300.4" y1="397.9" x2="304.4" y2="397.9" stroke="#141414" stroke-width="1.3" />
<text x="297.3" y="401.3" font-size="9.8" text-anchor="end" fill="#1a1a1a" textLength="11.8" lengthAdjust="spacingAndGlyphs" >0.0</text>
<line x1="300.4" y1="375.72" x2="304.4" y2="375.72" stroke="#141414" stroke-width="1.3" />
<text x="297.3" y="379.12" font-size="9.8" text-anchor="end" fill="#1a1a1a" textLength="11.8" lengthAdjust="spacingAndGlyphs" >0.2</text>
<line x1="300.4" y1="353.54" x2="304.4" y2="353.54" stroke="#141414" stroke-width="1.3" />
<text x="297.3" y="356.94" font-size="9.8" text-anchor="end" fill="#1a1a1a" textLength="11.8" lengthAdjust="spacingAndGlyphs" >0.4</text>
<line x1="300.4" y1="331.36" x2="304.4" y2="331.36" stroke="#141414" stroke-width="1.3" />
<text x="297.3" y="334.76" font-size="9.8" text-anchor="end" fill="#1a1a1a" textLength="11.8" lengthAdjust="spacingAndGlyphs" >0.6</text>
<line x1="300.4" y1="309.18" x2="304.4" y2="309.18" stroke="#141414" stroke-width="1.3" />
<text x="297.3" y="312.58" font-size="9.8" text-anchor="end" fill="#1a1a1a" textLength="11.8" lengthAdjust="spacingAndGlyphs" >0.8</text>
<line x1="300.4" y1="287" x2="304.4" y2="287" stroke="#141414" stroke-width="1.3" />
<text x="297.3" y="290.4" font-size="9.8" text-anchor="end" fill="#1a1a1a" textLength="11.8" lengthAdjust="spacingAndGlyphs" >1.0</text>
<line x1="300.4" y1="264.82" x2="304.4" y2="264.82" stroke="#141414" stroke-width="1.3" />
<text x="297.3" y="268.22" font-size="9.8" text-anchor="end" fill="#1a1a1a" textLength="11.8" lengthAdjust="spacingAndGlyphs" >1.2</text>
<line x1="304.4" y1="397.9" x2="304.4" y2="402.1" stroke="#141414" stroke-width="1.3" />
<text x="304.4" y="413.8" font-size="9.8" text-anchor="middle" fill="#1a1a1a" >0</text>
<line x1="337.73" y1="397.9" x2="337.73" y2="402.1" stroke="#141414" stroke-width="1.3" />
<text x="337.73" y="413.8" font-size="9.8" text-anchor="middle" fill="#1a1a1a" >4</text>
<line x1="371.06" y1="397.9" x2="371.06" y2="402.1" stroke="#141414" stroke-width="1.3" />
<text x="371.06" y="413.8" font-size="9.8" text-anchor="middle" fill="#1a1a1a" >8</text>
<line x1="404.4" y1="397.9" x2="404.4" y2="402.1" stroke="#141414" stroke-width="1.3" />
<text x="404.4" y="413.8" font-size="9.8" text-anchor="middle" fill="#1a1a1a" textLength="10" lengthAdjust="spacingAndGlyphs" >12</text>
<line x1="437.73" y1="397.9" x2="437.73" y2="402.1" stroke="#141414" stroke-width="1.3" />
<text x="437.73" y="413.8" font-size="9.8" text-anchor="middle" fill="#1a1a1a" textLength="10" lengthAdjust="spacingAndGlyphs" >16</text>
<line x1="471.06" y1="397.9" x2="471.06" y2="402.1" stroke="#141414" stroke-width="1.3" />
<text x="471.06" y="413.8" font-size="9.8" text-anchor="middle" fill="#1a1a1a" textLength="10" lengthAdjust="spacingAndGlyphs" >20</text>
<line x1="504.39" y1="397.9" x2="504.39" y2="402.1" stroke="#141414" stroke-width="1.3" />
<text x="504.39" y="413.8" font-size="9.8" text-anchor="middle" fill="#1a1a1a" textLength="10" lengthAdjust="spacingAndGlyphs" >24</text>
<text x="267.8" y="237.5" font-size="13" text-anchor="start" fill="#1a1a1a"  class="L">D</text>
<text x="393.6" y="248.6" font-size="11" text-anchor="start" fill="#1a1a1a" textLength="17.6" lengthAdjust="spacingAndGlyphs"  class="L">CK1</text>
<text x="411.8" y="248.6" font-size="12.5" font-family="Liberation Serif, serif" fill="#1a1a1a" textLength="6.8" lengthAdjust="spacingAndGlyphs">α</text>
<line x1="427.1" y1="365.5" x2="443.9" y2="365.5" stroke="#34517f" stroke-width="1.5" />
<circle cx="435.5" cy="365.5" r="2.9" fill="#34517f"/>
<line x1="427.1" y1="381.9" x2="443.9" y2="381.9" stroke="#9e2137" stroke-width="1.5" />
<rect x="432.45" y="378.85" width="6.1" height="6.1" fill="#9e2137"/>
<text x="447.7" y="368.7" font-size="9.2" text-anchor="start" fill="#1a1a1a" textLength="43.2" lengthAdjust="spacingAndGlyphs" >ZNF692ΔZF</text>
<text x="447.7" y="386.3" font-size="9.2" text-anchor="start" fill="#1a1a1a" textLength="35.1" lengthAdjust="spacingAndGlyphs" >ZNF692 K</text>
<text x="483.3" y="382.5" font-size="7" text-anchor="start" fill="#1a1a1a" >0</text>
<text x="418.6" y="298.1" font-size="8.2" text-anchor="start" fill="#1a1a1a" textLength="38.2" lengthAdjust="spacingAndGlyphs" >p &lt; 0.0001</text>
<text x="376.6" y="427.3" font-size="11" text-anchor="start" fill="#1a1a1a" textLength="58.5" lengthAdjust="spacingAndGlyphs"  class="L">Time (hours)</text>
<text transform="translate(278.2,329.4) rotate(-90)" class="L" font-size="10.5" text-anchor="middle" fill="#1a1a1a" textLength="81.5" lengthAdjust="spacingAndGlyphs">Relative to time 0</text>
<polyline points="304.4,287 305.23,289.77 306.07,292.39 306.9,294.88 307.73,297.24 308.57,299.48 309.4,301.6 310.23,303.62 311.07,305.53 311.9,307.34 312.73,309.06 313.57,310.7 314.4,312.24 315.23,313.71 316.07,315.1 316.9,316.42 317.73,317.68 318.57,318.87 319.4,319.99 320.23,321.06 321.07,322.08 321.9,323.04 322.73,323.95 323.57,324.82 324.4,325.64 325.23,326.42 326.07,327.16 326.9,327.86 327.73,328.52 328.57,329.15 329.4,329.75 330.23,330.32 331.07,330.86 331.9,331.37 332.73,331.85 333.57,332.31 334.4,332.75 335.23,333.16 336.07,333.55 336.9,333.93 337.73,334.28 338.57,334.61 339.4,334.93 340.23,335.23 341.07,335.52 341.9,335.79 342.73,336.05 343.57,336.29 344.4,336.52 345.23,336.74 346.06,336.95 346.9,337.15 347.73,337.33 348.56,337.51 349.4,337.68 350.23,337.84 351.06,337.99 351.9,338.13 352.73,338.27 353.56,338.4 354.4,338.52 355.23,338.64 356.06,338.75 356.9,338.85 357.73,338.95 358.56,339.05 359.4,339.14 360.23,339.22 361.06,339.3 361.9,339.38 362.73,339.45 363.56,339.52 364.4,339.59 365.23,339.65 366.06,339.71 366.9,339.76 367.73,339.81 368.56,339.86 369.4,339.91 370.23,339.96 371.06,340 371.9,340.04 372.73,340.08 373.56,340.11 374.4,340.15 375.23,340.18 376.06,340.21 376.9,340.24 377.73,340.27 378.56,340.3 379.4,340.32 380.23,340.35 381.06,340.37 381.9,340.39 382.73,340.41 383.56,340.43 384.4,340.45 385.23,340.47 386.06,340.48 386.9,340.5 387.73,340.51 388.56,340.53 389.4,340.54 390.23,340.55 391.06,340.56 391.9,340.58 392.73,340.59 393.56,340.6 394.4,340.61 395.23,340.62 396.06,340.62 396.9,340.63 397.73,340.64 398.56,340.65 399.4,340.66 400.23,340.66 401.06,340.67 401.9,340.67 402.73,340.68 403.56,340.69 404.4,340.69 405.23,340.7 406.06,340.7 406.9,340.71 407.73,340.71 408.56,340.71 409.4,340.72 410.23,340.72 411.06,340.72 411.9,340.73 412.73,340.73 413.56,340.73 414.4,340.74 415.23,340.74 416.06,340.74 416.9,340.74 417.73,340.75 418.56,340.75 419.4,340.75 420.23,340.75 421.06,340.75 421.9,340.76 422.73,340.76 423.56,340.76 424.4,340.76 425.23,340.76 426.06,340.76 426.9,340.76 427.73,340.76 428.56,340.77 429.39,340.77 430.23,340.77 431.06,340.77 431.89,340.77 432.73,340.77 433.56,340.77 434.39,340.77 435.23,340.77 436.06,340.77 436.89,340.77 437.73,340.77 438.56,340.78 439.39,340.78 440.23,340.78 441.06,340.78 441.89,340.78 442.73,340.78 443.56,340.78 444.39,340.78 445.23,340.78 446.06,340.78 446.89,340.78 447.73,340.78 448.56,340.78 449.39,340.78 450.23,340.78 451.06,340.78 451.89,340.78 452.73,340.78 453.56,340.78 454.39,340.78 455.23,340.78 456.06,340.78 456.89,340.78 457.73,340.78 458.56,340.78 459.39,340.78 460.23,340.78 461.06,340.78 461.89,340.78 462.73,340.78 463.56,340.78 464.39,340.78 465.23,340.78 466.06,340.78 466.89,340.78 467.73,340.78 468.56,340.78 469.39,340.78 470.23,340.79 471.06,340.79 471.89,340.79 472.73,340.79 473.56,340.79 474.39,340.79 475.23,340.79 476.06,340.79 476.89,340.79 477.73,340.79 478.56,340.79 479.39,340.79 480.23,340.79 481.06,340.79 481.89,340.79 482.73,340.79 483.56,340.79 484.39,340.79 485.23,340.79 486.06,340.79 486.89,340.79 487.73,340.79 488.56,340.79 489.39,340.79 490.23,340.79 491.06,340.79 491.89,340.79 492.73,340.79 493.56,340.79 494.39,340.79 495.23,340.79 496.06,340.79 496.89,340.79 497.73,340.79 498.56,340.79 499.39,340.79 500.23,340.79 501.06,340.79 501.89,340.79 502.73,340.79 503.56,340.79 504.39,340.79" fill="none" stroke="#34517f" stroke-width="1.9" stroke-linejoin="round"/>
<polyline points="304.4,287 305.23,287.7 306.07,288.39 306.9,289.07 307.73,289.73 308.57,290.38 309.4,291.01 310.23,291.64 311.07,292.25 311.9,292.85 312.73,293.43 313.57,294.01 314.4,294.57 315.23,295.12 316.07,295.67 316.9,296.2 317.73,296.72 318.57,297.23 319.4,297.73 320.23,298.22 321.07,298.7 321.9,299.17 322.73,299.63 323.57,300.09 324.4,300.53 325.23,300.96 326.07,301.39 326.9,301.81 327.73,302.22 328.57,302.62 329.4,303.01 330.23,303.4 331.07,303.78 331.9,304.15 332.73,304.51 333.57,304.87 334.4,305.21 335.23,305.56 336.07,305.89 336.9,306.22 337.73,306.54 338.57,306.86 339.4,307.17 340.23,307.47 341.07,307.77 341.9,308.06 342.73,308.35 343.57,308.63 344.4,308.9 345.23,309.17 346.06,309.43 346.9,309.69 347.73,309.94 348.56,310.19 349.4,310.44 350.23,310.68 351.06,310.91 351.9,311.14 352.73,311.36 353.56,311.58 354.4,311.8 355.23,312.01 356.06,312.22 356.9,312.42 357.73,312.62 358.56,312.82 359.4,313.01 360.23,313.2 361.06,313.38 361.9,313.56 362.73,313.74 363.56,313.91 364.4,314.08 365.23,314.25 366.06,314.41 366.9,314.57 367.73,314.73 368.56,314.88 369.4,315.03 370.23,315.18 371.06,315.32 371.9,315.46 372.73,315.6 373.56,315.74 374.4,315.87 375.23,316 376.06,316.13 376.9,316.26 377.73,316.38 378.56,316.5 379.4,316.62 380.23,316.74 381.06,316.85 381.9,316.96 382.73,317.07 383.56,317.18 384.4,317.29 385.23,317.39 386.06,317.49 386.9,317.59 387.73,317.69 388.56,317.78 389.4,317.87 390.23,317.96 391.06,318.05 391.9,318.14 392.73,318.23 393.56,318.31 394.4,318.4 395.23,318.48 396.06,318.56 396.9,318.63 397.73,318.71 398.56,318.78 399.4,318.86 400.23,318.93 401.06,319 401.9,319.07 402.73,319.14 403.56,319.2 404.4,319.27 405.23,319.33 406.06,319.39 406.9,319.46 407.73,319.52 408.56,319.57 409.4,319.63 410.23,319.69 411.06,319.74 411.9,319.8 412.73,319.85 413.56,319.9 414.4,319.96 415.23,320.01 416.06,320.05 416.9,320.1 417.73,320.15 418.56,320.2 419.4,320.24 420.23,320.29 421.06,320.33 421.9,320.37 422.73,320.41 423.56,320.46 424.4,320.5 425.23,320.54 426.06,320.57 426.9,320.61 427.73,320.65 428.56,320.69 429.39,320.72 430.23,320.76 431.06,320.79 431.89,320.82 432.73,320.86 433.56,320.89 434.39,320.92 435.23,320.95 436.06,320.98 436.89,321.01 437.73,321.04 438.56,321.07 439.39,321.1 440.23,321.13 441.06,321.15 441.89,321.18 442.73,321.21 443.56,321.23 444.39,321.26 445.23,321.28 446.06,321.3 446.89,321.33 447.73,321.35 448.56,321.37 449.39,321.39 450.23,321.42 451.06,321.44 451.89,321.46 452.73,321.48 453.56,321.5 454.39,321.52 455.23,321.54 456.06,321.56 456.89,321.57 457.73,321.59 458.56,321.61 459.39,321.63 460.23,321.65 461.06,321.66 461.89,321.68 462.73,321.69 463.56,321.71 464.39,321.73 465.23,321.74 466.06,321.76 466.89,321.77 467.73,321.78 468.56,321.8 469.39,321.81 470.23,321.82 471.06,321.84 471.89,321.85 472.73,321.86 473.56,321.88 474.39,321.89 475.23,321.9 476.06,321.91 476.89,321.92 477.73,321.93 478.56,321.95 479.39,321.96 480.23,321.97 481.06,321.98 481.89,321.99 482.73,322 483.56,322.01 484.39,322.02 485.23,322.03 486.06,322.03 486.89,322.04 487.73,322.05 488.56,322.06 489.39,322.07 490.23,322.08 491.06,322.09 491.89,322.09 492.73,322.1 493.56,322.11 494.39,322.12 495.23,322.12 496.06,322.13 496.89,322.14 497.73,322.15 498.56,322.15 499.39,322.16 500.23,322.17 501.06,322.17 501.89,322.18 502.73,322.18 503.56,322.19 504.39,322.2" fill="none" stroke="#9e2137" stroke-width="1.9" stroke-linejoin="round"/>
<line x1="312.73" y1="287.22" x2="312.73" y2="301.64" stroke="#9e2137" stroke-width="1.1" />
<line x1="309.83" y1="287.22" x2="315.63" y2="287.22" stroke="#9e2137" stroke-width="1.1" />
<line x1="309.83" y1="301.64" x2="315.63" y2="301.64" stroke="#9e2137" stroke-width="1.1" />
<rect x="309.93" y="291.63" width="5.6" height="5.6" fill="#9e2137"/>
<line x1="321.07" y1="282.56" x2="321.07" y2="300.31" stroke="#9e2137" stroke-width="1.1" />
<line x1="318.17" y1="282.56" x2="323.97" y2="282.56" stroke="#9e2137" stroke-width="1.1" />
<line x1="318.17" y1="300.31" x2="323.97" y2="300.31" stroke="#9e2137" stroke-width="1.1" />
<rect x="318.27" y="288.64" width="5.6" height="5.6" fill="#9e2137"/>
<rect x="326.6" y="299.39" width="5.6" height="5.6" fill="#9e2137"/>
<line x1="354.4" y1="310.07" x2="354.4" y2="316.72" stroke="#9e2137" stroke-width="1.1" />
<line x1="351.5" y1="310.07" x2="357.3" y2="310.07" stroke="#9e2137" stroke-width="1.1" />
<line x1="351.5" y1="316.72" x2="357.3" y2="316.72" stroke="#9e2137" stroke-width="1.1" />
<rect x="351.6" y="310.59" width="5.6" height="5.6" fill="#9e2137"/>
<line x1="396.06" y1="312.84" x2="396.06" y2="323.26" stroke="#9e2137" stroke-width="1.1" />
<line x1="393.16" y1="312.84" x2="398.96" y2="312.84" stroke="#9e2137" stroke-width="1.1" />
<line x1="393.16" y1="323.26" x2="398.96" y2="323.26" stroke="#9e2137" stroke-width="1.1" />
<rect x="393.26" y="315.25" width="5.6" height="5.6" fill="#9e2137"/>
<rect x="501.59" y="319.69" width="5.6" height="5.6" fill="#9e2137"/>
<circle cx="312.73" cy="329.14" r="2.8" fill="#34517f"/>
<line x1="321.07" y1="297.54" x2="321.07" y2="323.04" stroke="#34517f" stroke-width="1.1" />
<line x1="318.17" y1="297.54" x2="323.97" y2="297.54" stroke="#34517f" stroke-width="1.1" />
<line x1="318.17" y1="323.04" x2="323.97" y2="323.04" stroke="#34517f" stroke-width="1.1" />
<circle cx="321.07" cy="310.29" r="2.8" fill="#34517f"/>
<circle cx="329.4" cy="334.35" r="2.8" fill="#34517f"/>
<line x1="354.4" y1="317.5" x2="354.4" y2="339.68" stroke="#34517f" stroke-width="1.1" />
<line x1="351.5" y1="317.5" x2="357.3" y2="317.5" stroke="#34517f" stroke-width="1.1" />
<line x1="351.5" y1="339.68" x2="357.3" y2="339.68" stroke="#34517f" stroke-width="1.1" />
<circle cx="354.4" cy="328.59" r="2.8" fill="#34517f"/>
<line x1="396.06" y1="340.23" x2="396.06" y2="346.89" stroke="#34517f" stroke-width="1.1" />
<line x1="393.16" y1="340.23" x2="398.96" y2="340.23" stroke="#34517f" stroke-width="1.1" />
<line x1="393.16" y1="346.89" x2="398.96" y2="346.89" stroke="#34517f" stroke-width="1.1" />
<circle cx="396.06" cy="343.56" r="2.8" fill="#34517f"/>
<line x1="504.39" y1="343.45" x2="504.39" y2="346.89" stroke="#34517f" stroke-width="1.1" />
<line x1="501.49" y1="343.45" x2="507.29" y2="343.45" stroke="#34517f" stroke-width="1.1" />
<circle cx="504.39" cy="346.89" r="2.8" fill="#34517f"/>
<rect x="0.8" y="0.8" width="518.4" height="433.4" fill="none" stroke="#5a5a5a" stroke-width="1.6"/>
<rect x="0" y="433.6" width="520" height="1.4" fill="#151515"/></svg></body></html>
